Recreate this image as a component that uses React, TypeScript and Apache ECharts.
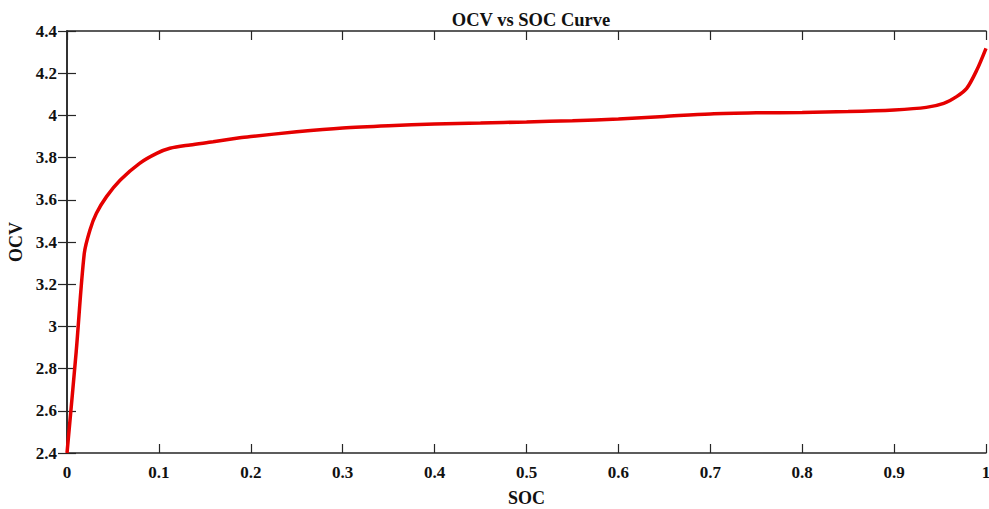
import React, { useEffect, useRef } from "react";
import * as echarts from "echarts";

const soc = [0, 0.01, 0.0188, 0.025, 0.032, 0.043, 0.058, 0.079, 0.0976, 0.112, 0.134, 0.159, 0.188, 0.2, 0.25, 0.3, 0.35, 0.4, 0.45, 0.5, 0.55, 0.6, 0.65, 0.7, 0.75, 0.8, 0.85, 0.9, 0.935, 0.954, 0.968, 0.979, 0.99, 1.0];
const ocv = [2.4, 2.88, 3.346, 3.457, 3.536, 3.615, 3.694, 3.773, 3.82, 3.844, 3.86, 3.875, 3.894, 3.9, 3.922, 3.94, 3.951, 3.959, 3.964, 3.969, 3.975, 3.983, 3.995, 4.007, 4.012, 4.014, 4.018, 4.026, 4.038, 4.057, 4.089, 4.128, 4.215, 4.318];

const titleText = "OCV vs SOC Curve";
const xName = "SOC";
const yName = "OCV";

export default function App() {
  const ref = useRef<HTMLDivElement>(null);
  useEffect(() => {
    if (!ref.current) return;
    const chart = echarts.init(ref.current, null, { renderer: "svg" });
    const font = "'Liberation Serif', 'Times New Roman', serif";
    const axisLine = { show: true, lineStyle: { color: "#262626", width: 1.5 } };
    const tick = { show: true, inside: true, length: 9, lineStyle: { color: "#262626", width: 1.2 } };
    const label = { fontFamily: font, fontWeight: "bold" as const, fontSize: 17, color: "#111" };
    chart.setOption({
      animation: false,
      backgroundColor: "#fff",
      title: {
        text: titleText,
        left: 526,
        textAlign: "center",
        top: 5,
        textStyle: { fontFamily: font, fontWeight: "bold", fontSize: 18.5, color: "#111" },
      },
      grid: { left: 67, right: 3, top: 31, bottom: 56, containLabel: false, outerBoundsMode: "none" },
      xAxis: [
        {
          type: "value",
          min: 0,
          max: 1,
          interval: 0.1,
          name: xName,
          nameLocation: "middle",
          nameGap: 36,
          nameTextStyle: { ...label, fontSize: 18 },
          axisLine,
          axisTick: tick,
          axisLabel: { ...label, margin: 11, formatter: (v: number) => String(parseFloat(v.toFixed(1))) },
          splitLine: { show: false },
        },
        {
          type: "value",
          position: "top",
          min: 0,
          max: 1,
          interval: 0.1,
          axisLine,
          axisTick: tick,
          axisLabel: { show: false },
          splitLine: { show: false },
        },
      ],
      yAxis: [
        {
          type: "value",
          min: 2.4,
          max: 4.4,
          interval: 0.2,
          name: yName,
          nameLocation: "middle",
          nameGap: 39,
          nameTextStyle: { ...label, fontSize: 18 },
          axisLine,
          axisTick: tick,
          axisLabel: { ...label, margin: 10, formatter: (v: number) => String(parseFloat(v.toFixed(1))) },
          splitLine: { show: false },
        },
        {
          type: "value",
          position: "right",
          min: 2.4,
          max: 4.4,
          interval: 0.2,
          axisLine,
          axisTick: tick,
          axisLabel: { show: false },
          splitLine: { show: false },
        },
      ],
      series: [
        {
          type: "line",
          data: soc.map((s, i) => [s, ocv[i]]),
          smooth: 0.3,
          showSymbol: false,
          lineStyle: { color: "#e50000", width: 3.5 },
          clip: true,
        },
      ],
    });
    return () => chart.dispose();
  }, []);
  return <div ref={ref} style={{ width: 989, height: 509, position: "absolute", left: 0, top: 0 }} />;
}
